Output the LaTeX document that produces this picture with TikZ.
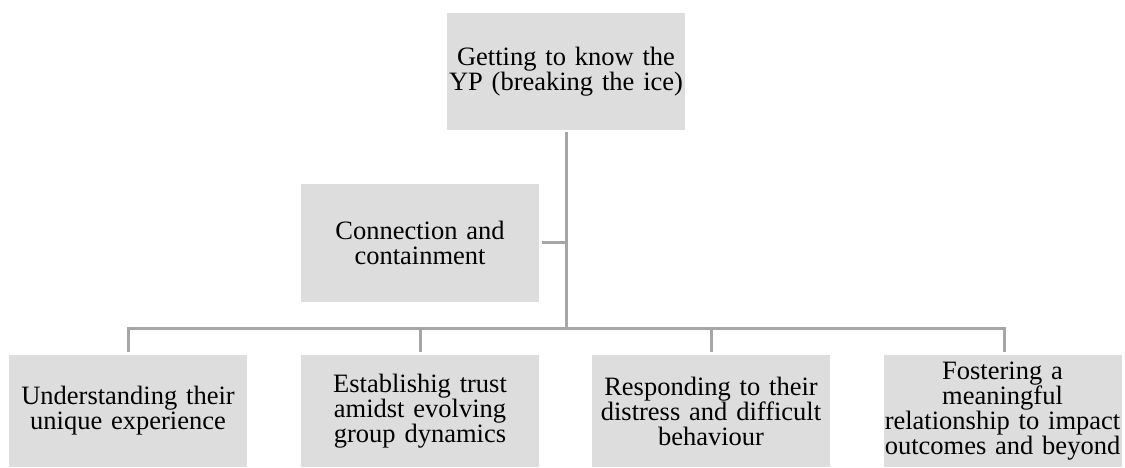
\documentclass[tikz,border=0pt]{standalone}
\usepackage{fontspec}
\setmainfont{Liberation Serif}
\definecolor{boxfill}{HTML}{DDDDDD}
\definecolor{linegray}{HTML}{A6A6A6}
\begin{document}
\begin{tikzpicture}[x=1pt,y=-1pt,
  box/.style={rectangle, fill=boxfill, minimum width=238pt, text width=238pt, align=center, inner sep=0pt, font=\fontsize{26.5}{25}\selectfont},
  conn/.style={draw=linegray, line width=3pt}]
\useasboundingbox (0,0) rectangle (1125,467);
\node[box, minimum height=117pt] (top) at (566,71.5) {Getting to know the\\YP (breaking the ice)};
\node[box, minimum height=118pt] (cc) at (420,243) {Connection and\\containment};
\node[box, minimum height=112pt] (b1) at (128,411) {Understanding their\\unique experience};
\node[box, minimum height=112pt] (b2) at (420,411) {Establishig trust\\amidst evolving\\group dynamics};
\node[box, minimum height=112pt] (b3) at (711,411) {Responding to their\\distress and difficult\\behaviour};
\node[box, minimum height=112pt] (b4) at (1002.5,411) {Fostering a\\meaningful\\relationship to impact\\outcomes and beyond};
\coordinate (j) at (566,328);
\coordinate (jc) at (566,242);
\coordinate (h1) at (128,328);
\coordinate (h2) at (420,328);
\coordinate (h3) at (711,328);
\coordinate (h4) at (1004,328);
\draw[conn, shorten <=2pt] (top.south) -- (j);
\draw[conn, shorten <=3pt] (cc.east |- jc) -- (jc);
\draw[conn, line cap=rect] (h1) -- (h4);
\draw[conn, shorten >=3pt] (h1) -- (b1.north);
\draw[conn, shorten >=3pt] (h2) -- (b2.north);
\draw[conn, shorten >=3pt] (h3) -- (b3.north);
\draw[conn, shorten >=3pt] (h4) -- (h4 |- b4.north);
\end{tikzpicture}
\end{document}
